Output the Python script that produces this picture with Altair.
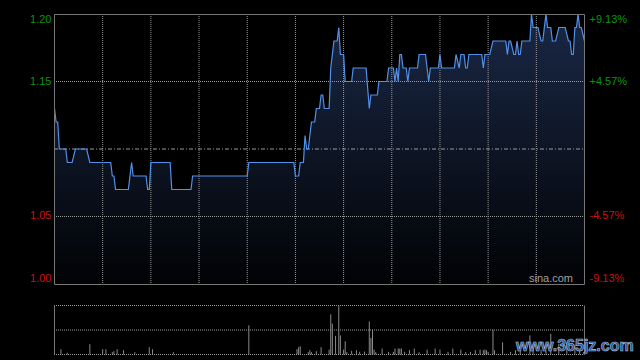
import altair as alt
import pandas as pd

# ---- data ----
minutes = [0, 1, 2, 3, 7, 8, 11, 13, 20, 22, 35, 36, 37, 38, 46, 48, 49, 57, 58, 59, 60, 72, 73, 85, 86,
           120, 121, 149, 150, 152, 153, 155, 156, 157, 158, 160, 162, 163, 165, 166, 167, 168, 171, 172,
           174, 176, 177, 178, 180, 181, 185, 186, 194, 196, 197, 201, 202, 207, 208, 211, 212, 213, 214,
           215, 216, 217, 219, 220, 221, 226, 227, 231, 233, 234, 239, 240, 241, 249, 250, 252, 253, 255,
           256, 257, 258, 266, 267, 268, 271, 273, 281, 282, 283, 284, 286, 287, 288, 289, 290, 291, 296,
           297, 298, 301, 303, 304, 306, 307, 309, 310, 312, 314, 318, 320, 321, 322, 323, 324, 325, 326,
           327, 328, 330]
prices = [1.13, 1.12, 1.12, 1.10, 1.10, 1.09, 1.09, 1.10, 1.10, 1.09, 1.09, 1.08, 1.08, 1.07, 1.07, 1.09,
          1.08, 1.08, 1.07, 1.07, 1.09, 1.09, 1.07, 1.07, 1.08, 1.08, 1.09, 1.09, 1.08, 1.08, 1.09, 1.09,
          1.11, 1.10, 1.10, 1.12, 1.12, 1.13, 1.13, 1.14, 1.14, 1.13, 1.13, 1.16, 1.18, 1.18, 1.19, 1.17,
          1.17, 1.15, 1.15, 1.16, 1.16, 1.13, 1.14, 1.14, 1.15, 1.15, 1.16, 1.16, 1.15, 1.16, 1.15, 1.17,
          1.17, 1.16, 1.16, 1.15, 1.16, 1.16, 1.17, 1.17, 1.15, 1.16, 1.16, 1.17, 1.16, 1.16, 1.17, 1.16,
          1.17, 1.17, 1.16, 1.16, 1.17, 1.17, 1.16, 1.17, 1.17, 1.18, 1.18, 1.17, 1.18, 1.18, 1.17, 1.17,
          1.18, 1.17, 1.17, 1.18, 1.18, 1.20, 1.19, 1.19, 1.18, 1.18, 1.20, 1.19, 1.19, 1.18, 1.18, 1.19,
          1.19, 1.18, 1.18, 1.17, 1.17, 1.19, 1.19, 1.20, 1.19, 1.19, 1.18]

vol_minutes = [4, 8, 22, 30, 32, 36, 37, 39, 43, 50, 59, 61, 74, 121, 151, 152, 153, 158, 159, 160, 163,
               166, 171, 172, 173, 175, 177, 178, 180, 181, 182, 185, 188, 190, 193, 196, 197, 198, 199,
               200, 204, 208, 211, 212, 214, 215, 216, 218, 221, 224, 227, 232, 237, 240, 245, 248, 253,
               256, 259, 262, 265, 267, 268, 269, 270, 273, 274, 279, 284, 287, 290, 296, 298, 303, 306,
               309, 314, 319, 324, 327]
volumes = [10.8, 3.4, 21, 10.8, 10.8, 4.7, 6.8, 10.8, 8.8, 4.7, 14.9, 10.8, 4.7, 59.5, 10.8, 14.9, 16.9,
           4.7, 8.8, 4.7, 6.8, 14.9, 10, 82, 63, 38, 100, 39, 10, 27, 4.7, 7.4, 8.8, 5.5, 6, 67.6, 33.8,
           50.7, 10, 4.7, 12.2, 5.4, 5.4, 12.2, 12.2, 12.2, 12.2, 5.4, 8.8, 12.2, 4.7, 10, 12.2, 10, 5.4,
           12.2, 10, 4.7, 5.4, 8.8, 10, 8.8, 10, 8.8, 5.4, 50.7, 8.8, 25, 5.4, 8.8, 8, 39, 22, 10, 8, 42,
           22, 25, 18.7, 12]

prev_close = 1.10
max_pct = 0.0913
price_ticks = [1.20, 1.15, 1.05, 1.00]
pct_labels = ["+9.13%", "+4.57%", "-4.57%", "-9.13%"]
grid_minutes = [30, 60, 90, 120, 150, 180, 210, 240, 270, 300]
vol_grid = [100, 50, 0]

GREEN = "#0a960a"
RED = "#cc1111"
FRAME = "#767676"
GRID = "#9a9a9a"
FONT = "Liberation Sans"

lo = prev_close * (1 - max_pct)
hi = prev_close * (1 + max_pct)

X0, X1 = 54.5, 584.5
Y0, Y1 = 14.5, 284.5
V0, V1 = 305.5, 354.5
GX0, GX1 = 54, 584
GY0, GY1 = 14, 284

xs = alt.Scale(domain=[0, 330], range=[X0, X1], nice=False, zero=False)
ys = alt.Scale(domain=[lo, hi], range=[284.58, 13.42], nice=False, zero=False)
vs = alt.Scale(domain=[0, 100], range=[V1, V0], nice=False, zero=False)

price_df = pd.DataFrame({"t": minutes, "p": prices})
vol_df = pd.DataFrame({"t": vol_minutes, "v": volumes})
tick_df = pd.DataFrame({"p": price_ticks, "pct": pct_labels})
grid_df = pd.DataFrame({"t": grid_minutes})
prev_df = pd.DataFrame({"p": [prev_close]})
vgrid_df = pd.DataFrame({"v": vol_grid})
one = pd.DataFrame({"a": [0]})

X = alt.X("t:Q", scale=xs, axis=None)
Yp = alt.Y("p:Q", scale=ys, axis=None)

gradient = alt.Gradient(
    gradient="linear",
    stops=[alt.GradientStop(color="#1a2846", offset=0),
           alt.GradientStop(color="#010204", offset=1)],
    x1=1, x2=1, y1=0, y2=1,
)

area = alt.Chart(price_df).mark_area(fill=gradient, interpolate="linear").encode(
    x=X, y=Yp, y2=alt.datum(lo)
)
line = alt.Chart(price_df).mark_line(color="#5290ea", strokeWidth=1.2).encode(x=X, y=Yp)

vgrid = alt.Chart(grid_df).mark_rule(color=GRID, strokeDash=[1, 1], strokeWidth=1).encode(
    x=X, y=alt.value(GY0), y2=alt.value(GY1)
)
hgrid = alt.Chart(tick_df).transform_filter(
    "datum.p < 1.19 && datum.p > 1.01"
).mark_rule(color=GRID, strokeDash=[1, 1], strokeWidth=1).encode(
    y=Yp, x=alt.value(GX0), x2=alt.value(GX1)
)
prevline = alt.Chart(prev_df).mark_rule(color="#9a9a9a", strokeDash=[4, 2, 1, 2], strokeWidth=1).encode(
    y=Yp, x=alt.value(GX0), x2=alt.value(GX1)
)
frame = alt.Chart(one).mark_rect(fill="transparent", stroke=FRAME, strokeWidth=1).encode(
    x=alt.value(X0), x2=alt.value(X1), y=alt.value(Y0), y2=alt.value(Y1)
)

col = alt.when(alt.datum.p > prev_close).then(alt.value(GREEN)).otherwise(alt.value(RED))


def labels(flt, baseline):
    left = alt.Chart(tick_df).transform_filter(flt).mark_text(
        align="right", baseline=baseline, fontSize=11, font=FONT
    ).encode(x=alt.value(51.5), y=Yp, text=alt.Text("p:Q", format=".2f"), color=col)
    right = alt.Chart(tick_df).transform_filter(flt).mark_text(
        align="left", baseline=baseline, fontSize=11, font=FONT
    ).encode(x=alt.value(589.5), y=Yp, text="pct:N", color=col)
    return [left, right]


lab_layers = (labels("datum.p > 1.19", "top")
              + labels("datum.p < 1.19 && datum.p > 1.01", "middle")
              + labels("datum.p < 1.01", "bottom"))

sina = alt.Chart(one).mark_text(
    text="sina.com", align="right", baseline="bottom", fontSize=11, font=FONT, color="#a0a0a0"
).encode(x=alt.value(573), y=alt.value(283.5))

# volume panel
vol = alt.Chart(vol_df).mark_rule(color="#8a8a8a", strokeWidth=1).encode(
    x=X, y=alt.Y("v:Q", scale=vs, axis=None), y2=alt.datum(0)
)
vlines = alt.Chart(vgrid_df).mark_rule(color=GRID, strokeDash=[1, 1], strokeWidth=1).encode(
    y=alt.Y("v:Q", scale=vs, axis=None), x=alt.value(GX0), x2=alt.value(GX1)
)
vleft = alt.Chart(one).mark_rule(color=FRAME, strokeWidth=1).encode(
    x=alt.value(X0), y=alt.value(V0), y2=alt.value(V1)
)
vright = alt.Chart(one).mark_rule(color=FRAME, strokeWidth=1).encode(
    x=alt.value(X1), y=alt.value(V0), y2=alt.value(V1)
)

wm = alt.Chart(one).mark_text(
    text="www.365jz.com", align="left", baseline="middle", fontSize=16, fontWeight="bold",
    font="Liberation Sans", color="#1f4f9e", stroke="#b8c4d8", strokeWidth=0.6
).encode(x=alt.value(516), y=alt.value(346))

chart = alt.layer(
    area, vgrid, hgrid, prevline, line, frame, *lab_layers, sina,
    vlines, vol, vleft, vright, wm
).resolve_scale(y="independent").properties(
    width=640, height=360, autosize=alt.AutoSizeParams(type="none"), padding=0,
    background="#000000"
).configure_view(strokeWidth=0)

chart.save("out.html", embed_options={"renderer": "svg", "actions": False})
